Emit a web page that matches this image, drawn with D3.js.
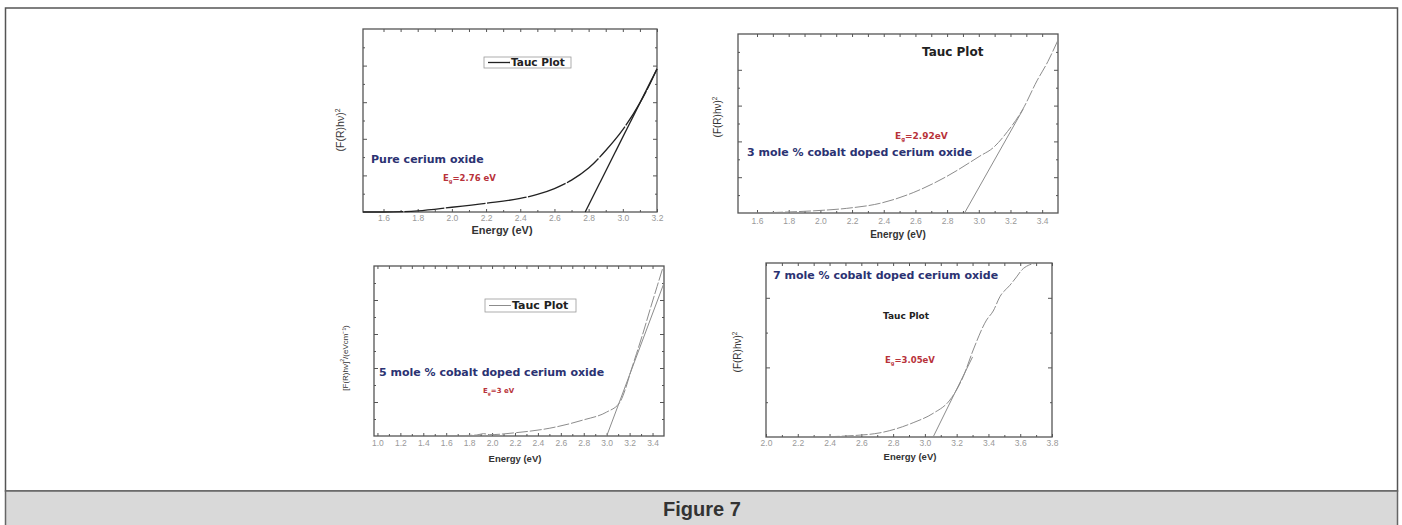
<!DOCTYPE html>
<html lang="en">
<head>
<meta charset="UTF-8" />
<title>Figure 7</title>
<script src="https://d3js.org/d3.v7.min.js"></script>
<style>
  body { margin: 0; background: #fff; }
  svg { display: block; font-family: "Liberation Sans", Arial, sans-serif; }
  .tick text { font-size: 8.5px; fill: #999; }
  .tick line { stroke: #555; }
  .sample { font-family: "DejaVu Sans", sans-serif; font-weight: bold; font-size: 11px; fill: #2b3272; }
  .gap { font-family: "DejaVu Sans", sans-serif; font-weight: bold; fill: #b8323a; }
  .tauc { font-family: "DejaVu Sans", sans-serif; font-weight: bold; fill: #222; }
  .ylab { fill: #333; }
  .xlab { font-weight: bold; fill: #333; }
</style>
</head>
<body>
<svg width="1402" height="525"></svg>
<script>
// ---- data (y in arbitrary units, 0..5 = full frame) ----
// pure cerium oxide
const energy1 = [1.48, 1.6, 1.8, 2.0, 2.2, 2.4, 2.5, 2.6, 2.7, 2.8, 2.9, 3.0, 3.1, 3.15, 3.2];
const absorb1 = [0, 0, 0.03, 0.13, 0.24, 0.37, 0.48, 0.64, 0.87, 1.2, 1.68, 2.25, 2.98, 3.42, 3.91];
const tangent1 = [[2.78, 0], [3.2, 3.91]];
const xticks1 = [1.6, 1.8, 2.0, 2.2, 2.4, 2.6, 2.8, 3.0, 3.2];

// 3 mole % Co
const energy2 = [1.6, 1.745, 1.955, 2.166, 2.376, 2.586, 2.797, 3.007, 3.09, 3.182, 3.278, 3.367, 3.436, 3.5];
const absorb2 = [0, 0.02, 0.06, 0.13, 0.27, 0.57, 1.02, 1.59, 1.82, 2.28, 2.9, 3.69, 4.23, 4.83];
const tangent2 = [[2.91, 0], [3.28, 2.9]];
const xticks2 = [1.6, 1.8, 2.0, 2.2, 2.4, 2.6, 2.8, 3.0, 3.2, 3.4];

// 5 mole % Co
const energy3 = [1.6, 1.867, 1.925, 1.98, 2.215, 2.504, 2.794, 2.997, 3.113, 3.16, 3.21, 3.26, 3.32, 3.38, 3.44, 3.49];
const absorb3 = [0, 0.03, 0.07, 0.04, 0.10, 0.23, 0.47, 0.70, 0.98, 1.35, 1.9, 2.42, 3.06, 3.74, 4.4, 4.95];
const tangent3 = [[3.0, 0], [3.5, 4.5]];
const xticks3 = [1.0, 1.2, 1.4, 1.6, 1.8, 2.0, 2.2, 2.4, 2.6, 2.8, 3.0, 3.2, 3.4];

// 7 mole % Co
const energy4 = [2.3, 2.507, 2.717, 2.926, 3.052, 3.157, 3.241, 3.304, 3.388, 3.43, 3.472, 3.535, 3.577, 3.61, 3.65, 3.70];
const absorb4 = [0, 0.03, 0.12, 0.41, 0.68, 1.06, 1.73, 2.5, 3.36, 3.62, 4.03, 4.36, 4.6, 4.8, 4.93, 4.99];
const tangent4 = [[3.052, 0], [3.30, 2.3]];
const xticks4 = [2.0, 2.2, 2.4, 2.6, 2.8, 3.0, 3.2, 3.4, 3.6, 3.8];

const yMajor = [1, 2, 3, 4];
const yMajor4 = [2, 4];

const panels = [
  { energy: energy1, absorb: absorb1, tangent: tangent1, xticks: xticks1, ymajor: yMajor,
    box: [363, 657, 29, 212], xDomain: [1.48, 3.2], color: "#222", width: 1.3, dash: "40 1.5", tickY: 221,
    sample: { text: "Pure cerium oxide", x: 371, y: 163 },
    gap: { value: "=2.76 eV", x: 443, y: 181, size: 8.5 },
    legend: { x: 484, y: 57, w: 87, h: 11, size: 10.5 },
    ylab: { x: 344, y: 130, size: 10.5 },
    xlab: { x: 502, y: 234, size: 11 } },
  { energy: energy2, absorb: absorb2, tangent: tangent2, xticks: xticks2, ymajor: yMajor,
    box: [738, 1058, 34, 213], xDomain: [1.48, 3.5], color: "#8c8c8c", width: 1, dash: "12 2", tickY: 224,
    sample: { text: "3 mole % cobalt doped cerium oxide", x: 747, y: 156 },
    gap: { value: "=2.92eV", x: 895, y: 139, size: 9 },
    title: { x: 922, y: 56, size: 12 },
    ylab: { x: 721, y: 117, size: 10 },
    xlab: { x: 898, y: 238, size: 10 } },
  { energy: energy3, absorb: absorb3, tangent: tangent3, xticks: xticks3, ymajor: yMajor,
    box: [374, 664, 266, 436], xDomain: [0.97, 3.5], color: "#8c8c8c", width: 1, dash: "12 2", tickY: 446,
    sample: { text: "5 mole % cobalt doped cerium oxide", x: 379, y: 376 },
    gap: { value: "=3 eV", x: 483, y: 393, size: 7 },
    legend: { x: 485, y: 299, w: 91, h: 13, size: 11 },
    ylab: { x: 348, y: 358, size: 8, tail: "(eVcm⁻¹)" },
    xlab: { x: 515, y: 462, size: 9.5 } },
  { energy: energy4, absorb: absorb4, tangent: tangent4, xticks: xticks4, ymajor: yMajor4,
    box: [766, 1052, 263, 437], xDomain: [2.0, 3.8], color: "#8c8c8c", width: 1, dash: "12 2", tickY: 446,
    sample: { text: "7 mole % cobalt doped cerium oxide", x: 773, y: 279 },
    gap: { value: "=3.05eV", x: 885, y: 363, size: 8.5 },
    title: { x: 883, y: 319, size: 9 },
    ylab: { x: 741, y: 352, size: 10 },
    xlab: { x: 910, y: 460, size: 9.5 } }
];

const svg = d3.select("svg");

// outer frame + caption band
svg.append("rect").attr("x", 5.5).attr("y", 8).attr("width", 1392).attr("height", 483)
  .attr("fill", "#fff").attr("stroke", "#555").attr("stroke-width", 1.5);
svg.append("rect").attr("x", 5.5).attr("y", 491).attr("width", 1392).attr("height", 40)
  .attr("fill", "#d9d9d9").attr("stroke", "#666").attr("stroke-width", 1.5);
svg.append("text").attr("x", 702).attr("y", 516).attr("text-anchor", "middle")
  .attr("font-size", 20).attr("font-weight", "bold").attr("fill", "#333").text("Figure 7");

function drawPanel(p) {
  const [l, r, t, b] = p.box;
  const x = d3.scaleLinear().domain(p.xDomain).range([l, r]);
  const y = d3.scaleLinear().domain([0, 5]).range([b, t]);
  const g = svg.append("g");

  // minor ticks halfway between labelled ones
  const step = p.xticks[1] - p.xticks[0];
  const minorX = p.xticks.map(v => v + step / 2).filter(v => v < p.xDomain[1]);
  const minorY = p.ymajor.length === 2 ? [1, 3] : [0.5, 1.5, 2.5, 3.5, 4.5];

  g.append("g").attr("transform", `translate(0,${b})`)
    .call(d3.axisBottom(x).tickValues(p.xticks).tickFormat(d3.format(".1f"))
      .tickSizeInner(-3).tickSizeOuter(0).tickPadding(p.tickY - b - 6))
    .call(s => s.select(".domain").remove());
  g.append("g").attr("transform", `translate(0,${b})`)
    .call(d3.axisBottom(x).tickValues(minorX).tickFormat("").tickSizeInner(-2).tickSizeOuter(0))
    .call(s => s.select(".domain").remove());
  g.append("g").attr("transform", `translate(0,${t})`)
    .call(d3.axisTop(x).tickValues(p.xticks.concat(minorX)).tickFormat("").tickSizeInner(-3).tickSizeOuter(0))
    .call(s => s.select(".domain").remove());
  [[d3.axisLeft, l], [d3.axisRight, r]].forEach(([ax, pos]) => {
    g.append("g").attr("transform", `translate(${pos},0)`)
      .call(ax(y).tickValues(p.ymajor).tickFormat("").tickSizeInner(-4).tickSizeOuter(0))
      .call(s => s.select(".domain").remove());
    g.append("g").attr("transform", `translate(${pos},0)`)
      .call(ax(y).tickValues(minorY).tickFormat("").tickSizeInner(-2).tickSizeOuter(0))
      .call(s => s.select(".domain").remove());
  });

  g.append("rect").attr("x", l).attr("y", t).attr("width", r - l).attr("height", b - t)
    .attr("fill", "none").attr("stroke", "#555").attr("stroke-width", 1.3);

  const line = d3.line().x(d => x(d[0])).y(d => y(d[1])).curve(d3.curveMonotoneX);
  const pts = p.energy.map((e, i) => [e, p.absorb[i]]);
  g.append("path").attr("d", line(pts)).attr("fill", "none")
    .attr("stroke", p.color).attr("stroke-width", p.width).attr("stroke-dasharray", p.dash);
  g.append("path").attr("d", d3.line().x(d => x(d[0])).y(d => y(d[1]))(p.tangent))
    .attr("fill", "none").attr("stroke", p.color).attr("stroke-width", p.width);

  // labels
  g.append("text").attr("class", "sample").attr("x", p.sample.x).attr("y", p.sample.y).text(p.sample.text);
  const gt = g.append("text").attr("class", "gap").attr("x", p.gap.x).attr("y", p.gap.y)
    .attr("font-size", p.gap.size);
  gt.append("tspan").text("E");
  gt.append("tspan").attr("font-size", p.gap.size * 0.6).attr("dy", 2).text("g");
  gt.append("tspan").attr("dy", -2).text(p.gap.value);

  if (p.legend) {
    const lg = p.legend;
    g.append("rect").attr("x", lg.x).attr("y", lg.y).attr("width", lg.w).attr("height", lg.h)
      .attr("fill", "#fff").attr("stroke", "#999").attr("stroke-width", 0.8);
    g.append("line").attr("x1", lg.x + 4).attr("x2", lg.x + 26)
      .attr("y1", lg.y + lg.h / 2).attr("y2", lg.y + lg.h / 2)
      .attr("stroke", p.color).attr("stroke-width", p.width);
    g.append("text").attr("class", "tauc").attr("x", lg.x + 27).attr("y", lg.y + lg.h / 2 + lg.size * 0.36)
      .attr("font-size", lg.size).text("Tauc Plot");
  }
  if (p.title) {
    g.append("text").attr("class", "tauc").attr("x", p.title.x).attr("y", p.title.y)
      .attr("font-size", p.title.size).text("Tauc Plot");
  }

  const yl = g.append("text").attr("class", "ylab").attr("text-anchor", "middle")
    .attr("font-size", p.ylab.size)
    .attr("transform", `translate(${p.ylab.x},${p.ylab.y}) rotate(-90)`);
  if (p.ylab.tail) {
    yl.append("tspan").text("[F(R)hν]");
    yl.append("tspan").attr("font-size", p.ylab.size * 0.65).attr("dy", -4).text("2");
    yl.append("tspan").attr("dy", 4).text("/" + p.ylab.tail);
  } else {
    yl.append("tspan").text("(F(R)hν)");
    yl.append("tspan").attr("font-size", p.ylab.size * 0.65).attr("dy", -4).text("2");
  }

  g.append("text").attr("class", "xlab").attr("x", p.xlab.x).attr("y", p.xlab.y)
    .attr("text-anchor", "middle").attr("font-size", p.xlab.size).text("Energy (eV)");
}

panels.forEach(drawPanel);
</script>
</body>
</html>
